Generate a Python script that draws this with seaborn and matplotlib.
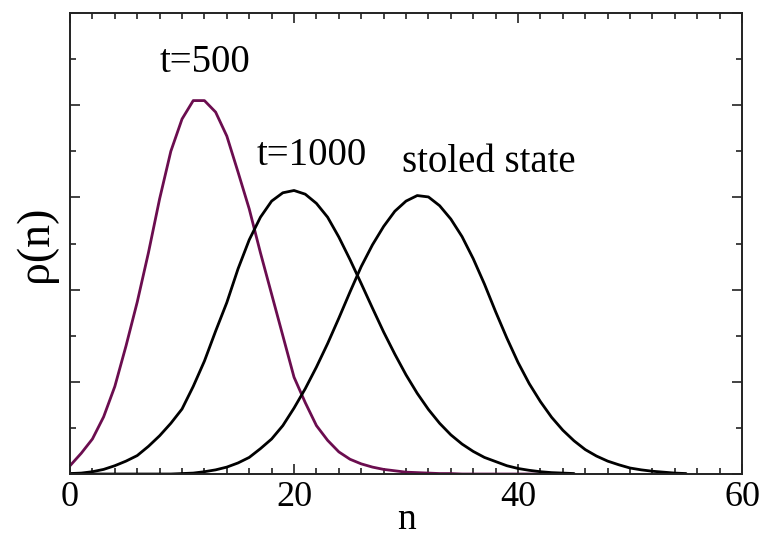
import numpy as np
import pandas as pd
import matplotlib
matplotlib.use("Agg")
import matplotlib.pyplot as plt
from matplotlib.ticker import MultipleLocator
import seaborn as sns

# occupation number grid
n = np.arange(0, 56)

# distribution after t=500
rho_t500 = [
    0.0018, 0.0045, 0.0076, 0.0124, 0.0190, 0.0278, 0.0373, 0.0480, 0.0597, 0.0700,
    0.0770, 0.0810, 0.0810, 0.0785, 0.0733, 0.0655, 0.0575, 0.0480, 0.0390, 0.0300,
    0.0210, 0.0155, 0.0105, 0.0073, 0.0048, 0.0032, 0.0022, 0.0015, 0.0010, 0.0007,
    0.0004, 0.0003, 0.0002, 0.0001, 0.0001, 0.0, 0.0, 0.0, 0.0, 0.0,
    0.0, 0.0, 0.0,
]

# distribution after t=1000
rho_t1000 = [
    0.0001, 0.0002, 0.0005, 0.0010, 0.0018, 0.0028, 0.0040, 0.0060, 0.0083, 0.0110,
    0.0141, 0.0190, 0.0245, 0.0310, 0.0372, 0.0445, 0.0508, 0.0557, 0.0592, 0.0610,
    0.0615, 0.0607, 0.0587, 0.0557, 0.0514, 0.0465, 0.0413, 0.0360, 0.0308, 0.0260,
    0.0215, 0.0175, 0.0140, 0.0110, 0.0085, 0.0065, 0.0049, 0.0036, 0.0027, 0.0018,
    0.0012, 0.0008, 0.0005, 0.0003, 0.0002, 0.0001,
]

# stationary ("stoled") distribution
rho_stoled = [
    0.0, 0.0, 0.0, 0.0, 0.0, 0.0, 0.0, 0.0, 0.0, 0.0,
    0.0001, 0.0002, 0.0005, 0.0009, 0.0015, 0.0024, 0.0036, 0.0055, 0.0076, 0.0105,
    0.0143, 0.0185, 0.0232, 0.0283, 0.0338, 0.0395, 0.0450, 0.0497, 0.0537, 0.0570,
    0.0592, 0.0604, 0.0601, 0.0582, 0.0553, 0.0515, 0.0467, 0.0412, 0.0352, 0.0295,
    0.0242, 0.0196, 0.0157, 0.0123, 0.0095, 0.0072, 0.0053, 0.0039, 0.0028, 0.0020,
    0.0013, 0.0009, 0.0006, 0.0004, 0.0002, 0.0001,
]

curve_labels = ["t=500", "t=1000", "stoled state"]
curve_colors = ["#6b0d4f", "black", "black"]

frames = []
for lab, vals in zip(curve_labels, [rho_t500, rho_t1000, rho_stoled]):
    frames.append(pd.DataFrame({"n": n[:len(vals)], "rho": vals, "curve": lab}))
df = pd.concat(frames, ignore_index=True)

sns.set_theme(style="ticks")
plt.rcParams["font.family"] = ["Liberation Serif", "DejaVu Serif"]
plt.rcParams["text.color"] = "black"
plt.rcParams["axes.labelcolor"] = "black"
plt.rcParams["xtick.color"] = "black"
plt.rcParams["ytick.color"] = "black"

fig = plt.figure(figsize=(7.62, 5.37), dpi=100)
ax = fig.add_axes([0.0919, 0.1173, 0.8819, 0.8585])

sns.lineplot(data=df, x="n", y="rho", hue="curve", hue_order=curve_labels,
             palette=dict(zip(curve_labels, curve_colors)), linewidth=2.0,
             legend=False, ax=ax, estimator=None, sort=True)

ax.set_xlim(0, 60)
ax.set_ylim(0, 0.1)
ax.xaxis.set_major_locator(MultipleLocator(20))
ax.xaxis.set_minor_locator(MultipleLocator(2))
ax.yaxis.set_major_locator(MultipleLocator(0.02))
ax.yaxis.set_minor_locator(MultipleLocator(0.01))
ax.tick_params(which="both", direction="in", top=True, right=True,
               color="#222222", width=1.2)
ax.tick_params(which="major", length=7)
ax.tick_params(which="minor", length=4)
ax.tick_params(axis="x", which="major", labelsize=26, pad=5, labelcolor="black")
ax.set_yticklabels([])
for sp in ax.spines.values():
    sp.set_linewidth(1.4)
    sp.set_color("#222222")

ax.set_xlabel("n", fontsize=27, labelpad=-8)
ax.set_ylabel("ρ(n)", fontsize=33, labelpad=6)

ax.text(8.0, 0.0872, "t=500", fontsize=28, ha="left", va="baseline")
ax.text(16.7, 0.0670, "t=1000", fontsize=28, ha="left", va="baseline")
ax.text(29.6, 0.0655, "stoled state", fontsize=28, ha="left", va="baseline")

fig.savefig("out.png", dpi=100)
